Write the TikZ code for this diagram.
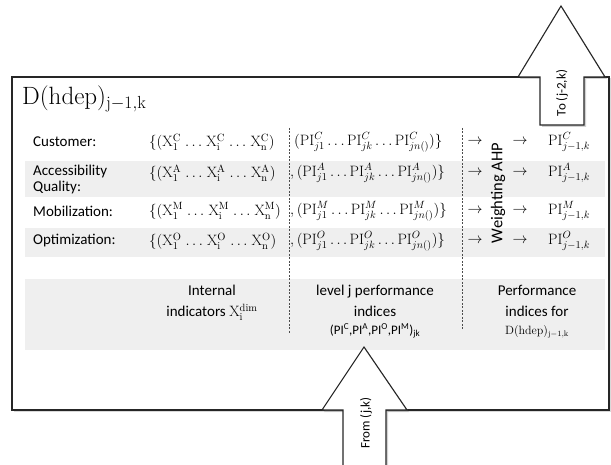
\RequirePackage{fix-cm}
\documentclass[tikz,border=0pt]{standalone}
\usepackage{fontspec}
\setsansfont{Carlito}
\usetikzlibrary{shadows}
\definecolor{band}{HTML}{EFEFEF}
\definecolor{edge}{HTML}{262626}
\newcommand{\dd}{\mkern2mu\ldots\mkern2mu}
\begin{document}
\begin{tikzpicture}[x=1pt,y=-1pt,
  lab/.style={font=\sffamily\fontsize{15}{15.5}\selectfont, anchor=west, inner sep=0pt, align=left},
  mth/.style={font=\fontsize{15}{16}\selectfont, anchor=west, inner sep=0pt},
  ctr/.style={font=\sffamily\fontsize{15}{21}\selectfont, inner sep=0pt, align=center},
  arr/.style={draw=edge, line width=1.1pt, fill=white, line join=miter,
              drop shadow={opacity=0.35, shadow xshift=2pt, shadow yshift=-2pt}},
  sep/.style={draw=black!70, dashed, dash pattern=on 2pt off 1.5pt, line width=0.5pt}]
\useasboundingbox (0,0) rectangle (611,465);
\clip (0,0) rectangle (611,465);
% main box
\draw[draw=edge, line width=1.3pt, fill=white,
      drop shadow={opacity=0.3, shadow xshift=1.5pt, shadow yshift=-1.5pt}]
  (12,77) rectangle (609,410);
% gray bands
\fill[band] (25,161) rectangle (605,197);
\fill[band] (25,228) rectangle (605,257);
\fill[band] (25,279) rectangle (605,350);
% title
\node[anchor=west, inner sep=0pt, font=\fontsize{25}{27}\selectfont] (title) at (22,99) {$\mathrm{D(hdep)_{j-1,k}}$};
% separators
\coordinate (s1t) at (289,128); \coordinate (s1b) at (289,333);
\coordinate (s2t) at (462,128); \coordinate (s2b) at (462,331);
\draw[sep] (s1t) -- (s1b);
\draw[sep] (s2t) -- (s2b);
% labels
\node[lab] (lC) at (33,142) {Customer:};
\node[lab] (lA) at (33,172) {Accessibility};
\node[lab] (lA2) at (33,188) {Quality:};
\node[lab] (lM) at (33,211) {Mobilization:};
\node[lab] (lO) at (33,241) {Optimization:};
% X sets
\node[mth] (xC) at (149,142) {$\bigl\{(\mathrm{X}_1^{\mathrm{C}}\dd\mathrm{X}_{\mathrm{i}}^{\mathrm{C}}\dd\mathrm{X}_{\mathrm{n}}^{\mathrm{C}})$};
\node[mth] (xA) at (149,173) {$\bigl\{(\mathrm{X}_1^{\mathrm{A}}\dd\mathrm{X}_{\mathrm{i}}^{\mathrm{A}}\dd\mathrm{X}_{\mathrm{n}}^{\mathrm{A}})$};
\node[mth] (xM) at (149,211) {$\bigl\{(\mathrm{X}_1^{\mathrm{M}}\dd\mathrm{X}_{\mathrm{i}}^{\mathrm{M}}\dd\mathrm{X}_{\mathrm{n}}^{\mathrm{M}})$};
\node[mth] (xO) at (149,241) {$\bigl\{(\mathrm{X}_1^{\mathrm{O}}\dd\mathrm{X}_{\mathrm{i}}^{\mathrm{O}}\dd\mathrm{X}_{\mathrm{n}}^{\mathrm{O}})$};
% PI sets
\node[mth] (pC) at (294,142) {$(\mathrm{PI}_{j1}^{C}\ldots\mathrm{PI}_{jk}^{C}\ldots\mathrm{PI}_{jn()}^{C})\bigr\}$};
\node[mth] (pA) at (290,173) {$,(\mathrm{PI}_{j1}^{A}\ldots\mathrm{PI}_{jk}^{A}\ldots\mathrm{PI}_{jn()}^{A})\bigr\}$};
\node[mth] (pM) at (290,211) {$,(\mathrm{PI}_{j1}^{M}\ldots\mathrm{PI}_{jk}^{M}\ldots\mathrm{PI}_{jn()}^{M})\bigr\}$};
\node[mth] (pO) at (290,241) {$,(\mathrm{PI}_{j1}^{O}\ldots\mathrm{PI}_{jk}^{O}\ldots\mathrm{PI}_{jn()}^{O})\bigr\}$};
% arrows and weighting
\foreach \r/\y in {C/142,A/173,M/211,O/241}{
  \node[mth, anchor=center] (a1\r) at (475,\y) {$\rightarrow$};
  \node[mth, anchor=center] (a2\r) at (520,\y) {$\rightarrow$};
}
\node[mth] (rC) at (548,142) {$\mathrm{PI}_{j-1,k}^{C}$};
\node[mth] (rA) at (548,173) {$\mathrm{PI}_{j-1,k}^{A}$};
\node[mth] (rM) at (548,211) {$\mathrm{PI}_{j-1,k}^{M}$};
\node[mth] (rO) at (548,241) {$\mathrm{PI}_{j-1,k}^{O}$};
\node[font=\sffamily\fontsize{16.5}{18}\selectfont, inner sep=0pt, rotate=90] (wahp) at (498,193) {Weighting AHP};
% bottom band texts
\node[ctr, anchor=north] (b1) at (212,285) {Internal\\indicators $\mathrm{X}_{\mathrm{i}}^{\mathrm{dim}}$};
\node[ctr, anchor=north] (b2) at (375,285) {level j performance\\indices\\[-3pt]{\fontsize{13}{14}\selectfont(PI\textsuperscript{C},PI\textsuperscript{A},PI\textsuperscript{O},PI\textsuperscript{M})\textsubscript{jk}}};
\node[ctr, anchor=north] (b3) at (537,285) {Performance\\indices for\\[-3pt]{\fontsize{12}{14}\selectfont$\mathrm{D(hdep)_{j-1,k}}$}};
% top arrow
\path[arr] (540,125) -- (540,77) -- (518,77) -- (561,6) -- (605,77) -- (584,77) -- (584,125) -- cycle;
\node[font=\sffamily\fontsize{13}{14}\selectfont, rotate=90, inner sep=0pt] (to) at (562,93) {To (j-2,k)};
% from arrow
\path[arr] (343,470) -- (343,410) -- (322,410) -- (364,347) -- (407,410) -- (386,410) -- (386,470) -- cycle;
\node[font=\sffamily\fontsize{13}{14}\selectfont, rotate=90, inner sep=0pt] (from) at (366,423) {From (j,k)};
\end{tikzpicture}
\end{document}
